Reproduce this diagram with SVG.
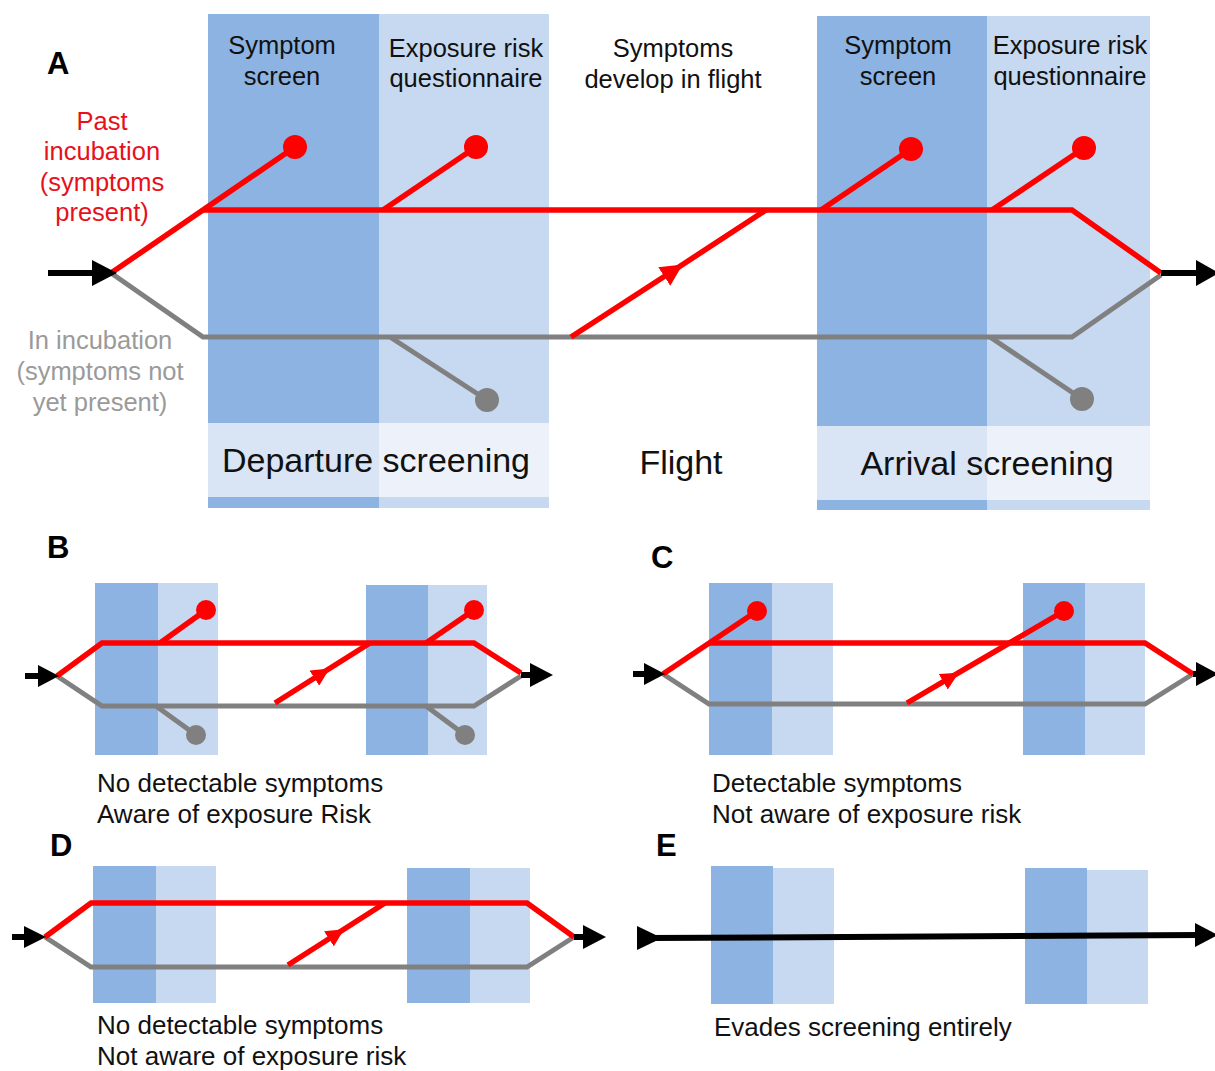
<svg xmlns="http://www.w3.org/2000/svg" width="1215" height="1071" viewBox="0 0 1215 1071">
<defs>
<style>
.dk{fill:#8DB3E2}
.lt{fill:#C6D9F1}
.bd{fill:#D9E4F4}
.bl{fill:#EDF2FA}
.red{fill:none;stroke:#FF0000;stroke-width:5.5;stroke-linejoin:miter}
.gry{fill:none;stroke:#808080;stroke-width:5}
.blk{fill:none;stroke:#000;stroke-width:6}
.rd{fill:#FF0000}
.gd{fill:#808080}
.ah{fill:#000}
text{font-family:"Liberation Sans",Arial,sans-serif;fill:#111}
.lbl{font-size:25.5px}
.cap{font-size:26px}
.big{font-size:34px}
.let{font-size:31px;font-weight:bold;fill:#000}
.tr{fill:#E8101A}
.tg{fill:#9A9A9A}
</style>
<marker id="mid" viewBox="0 0 10 10" refX="5" refY="5" markerUnits="userSpaceOnUse" markerWidth="22" markerHeight="22" orient="auto"><path d="M0,0 L10,5 L0,10 z" fill="#FF0000"/></marker>
<marker id="mids" viewBox="0 0 10 10" refX="5" refY="5" markerUnits="userSpaceOnUse" markerWidth="18" markerHeight="18" orient="auto"><path d="M0,0 L10,5 L0,10 z" fill="#FF0000"/></marker>
</defs>
<rect width="1215" height="1071" fill="#fff"/>

<!-- Panel A -->
<g id="A-departure">
<rect class="dk" x="208" y="14" width="171" height="409"/>
<rect class="lt" x="379" y="14" width="170" height="409"/>
<rect class="bd" x="208" y="423" width="171" height="74"/>
<rect class="bl" x="379" y="423" width="170" height="74"/>
<rect class="dk" x="208" y="497" width="171" height="11"/>
<rect class="lt" x="379" y="497" width="170" height="11"/>
<text class="lbl" x="282" y="54" text-anchor="middle">Symptom</text>
<text class="lbl" x="282" y="85" text-anchor="middle">screen</text>
<text class="lbl" x="466" y="57" text-anchor="middle">Exposure risk</text>
<text class="lbl" x="466" y="87" text-anchor="middle">questionnaire</text>
<text class="big" x="376" y="472" text-anchor="middle">Departure screening</text>
</g>
<g id="A-arrival">
<rect class="dk" x="817" y="16" width="170" height="410"/>
<rect class="lt" x="987" y="16" width="163" height="410"/>
<rect class="bd" x="817" y="426" width="170" height="74"/>
<rect class="bl" x="987" y="426" width="163" height="74"/>
<rect class="dk" x="817" y="500" width="170" height="10"/>
<rect class="lt" x="987" y="500" width="163" height="10"/>
<text class="lbl" x="898" y="54" text-anchor="middle">Symptom</text>
<text class="lbl" x="898" y="85" text-anchor="middle">screen</text>
<text class="lbl" x="1070" y="54" text-anchor="middle">Exposure risk</text>
<text class="lbl" x="1070" y="85" text-anchor="middle">questionnaire</text>
<text class="big" x="987" y="475" text-anchor="middle">Arrival screening</text>
</g>
<g id="A-flight">
<text class="lbl" x="673" y="57" text-anchor="middle">Symptoms</text>
<text class="lbl" x="673" y="88" text-anchor="middle">develop in flight</text>
<text class="big" x="681" y="474" text-anchor="middle">Flight</text>
</g>
<g id="A-labels">
<text class="let" x="47" y="74">A</text>
<text class="lbl tr" x="102" y="130" text-anchor="middle">Past</text>
<text class="lbl tr" x="102" y="160" text-anchor="middle">incubation</text>
<text class="lbl tr" x="102" y="191" text-anchor="middle">(symptoms</text>
<text class="lbl tr" x="102" y="221" text-anchor="middle">present)</text>
<text class="lbl tg" x="100" y="349" text-anchor="middle">In incubation</text>
<text class="lbl tg" x="100" y="380" text-anchor="middle">(symptoms not</text>
<text class="lbl tg" x="100" y="411" text-anchor="middle">yet present)</text>
</g>

<!-- Panel B -->
<g id="B-screens">
<rect class="dk" x="95" y="583" width="63" height="172"/>
<rect class="lt" x="158" y="583" width="60" height="172"/>
<rect class="dk" x="366" y="585" width="62" height="170"/>
<rect class="lt" x="428" y="585" width="59" height="170"/>
</g>
<g id="B-labels">
<text class="let" x="47" y="558">B</text>
<text class="cap" x="97" y="792">No detectable symptoms</text>
<text class="cap" x="97" y="823">Aware of exposure Risk</text>
</g>

<!-- Panel C -->
<g id="C-screens">
<rect class="dk" x="709" y="583" width="63" height="172"/>
<rect class="lt" x="772" y="583" width="61" height="172"/>
<rect class="dk" x="1023" y="583" width="62" height="172"/>
<rect class="lt" x="1085" y="583" width="60" height="172"/>
</g>
<g id="C-labels">
<text class="let" x="651" y="568">C</text>
<text class="cap" x="712" y="792">Detectable symptoms</text>
<text class="cap" x="712" y="823">Not aware of exposure risk</text>
</g>

<!-- Panel D -->
<g id="D-screens">
<rect class="dk" x="93" y="866" width="63" height="137"/>
<rect class="lt" x="156" y="866" width="60" height="137"/>
<rect class="dk" x="407" y="868" width="63" height="135"/>
<rect class="lt" x="470" y="868" width="60" height="135"/>
</g>
<g id="D-labels">
<text class="let" x="50" y="856">D</text>
<text class="cap" x="97" y="1034">No detectable symptoms</text>
<text class="cap" x="97" y="1065">Not aware of exposure risk</text>
</g>

<!-- Panel E -->
<g id="E-screens">
<rect class="dk" x="711" y="866" width="62" height="138"/>
<rect class="lt" x="773" y="868" width="61" height="136"/>
<rect class="dk" x="1025" y="868" width="62" height="136"/>
<rect class="lt" x="1087" y="870" width="61" height="134"/>
</g>
<g id="E-labels">
<text class="let" x="656" y="856">E</text>
<text class="cap" x="714" y="1036">Evades screening entirely</text>
</g>

<g id="connectors">
<!-- A -->
<polyline class="gry" points="111,273 203,337 1072,337 1161,275"/>
<line class="gry" x1="390" y1="337" x2="487" y2="400"/>
<line class="gry" x1="990" y1="337" x2="1082" y2="399"/>
<circle class="gd" cx="487" cy="400" r="12"/>
<circle class="gd" cx="1082" cy="399" r="12"/>
<polyline class="red" points="203,210 1072,210 1161,273"/>
<line class="red" x1="111" y1="273" x2="295" y2="147"/>
<line class="red" x1="383" y1="210" x2="476" y2="147"/>
<line class="red" x1="821" y1="210" x2="911" y2="149"/>
<line class="red" x1="992" y1="210" x2="1084" y2="148"/>
<circle class="rd" cx="295" cy="147" r="12"/>
<circle class="rd" cx="476" cy="147" r="12"/>
<circle class="rd" cx="911" cy="149" r="12"/>
<circle class="rd" cx="1084" cy="148" r="12"/>
<polyline class="red" points="571,337 673.5,270.5 766,210" marker-mid="url(#mid)"/>
<line class="blk" x1="48" y1="273" x2="100" y2="273"/>
<polygon class="ah" points="92,260 117,273 92,286"/>
<line class="blk" x1="1161" y1="273" x2="1205" y2="273"/>
<polygon class="ah" points="1196,260 1219,273 1196,286"/>

<!-- B -->
<polyline class="gry" points="57,676 102,706 474,706 521,676"/>
<line class="gry" x1="156" y1="706" x2="196" y2="735"/>
<line class="gry" x1="426" y1="706" x2="465" y2="735"/>
<circle class="gd" cx="196" cy="735" r="10"/>
<circle class="gd" cx="465" cy="735" r="10"/>
<polyline class="red" points="57,676 102,643 474,643 521,673"/>
<line class="red" x1="160" y1="643" x2="206" y2="610"/>
<line class="red" x1="426" y1="643" x2="474" y2="610"/>
<circle class="rd" cx="206" cy="610" r="10"/>
<circle class="rd" cx="474" cy="610" r="10"/>
<polyline class="red" points="275,703 322,673.3 370,643" marker-mid="url(#mids)"/>
<line class="blk" x1="25" y1="676" x2="45" y2="676"/>
<polygon class="ah" points="38,665 59,676 38,687"/>
<line class="blk" x1="521" y1="675" x2="540" y2="675"/>
<polygon class="ah" points="530,663 553,675 530,687"/>

<!-- C -->
<polyline class="gry" points="663,674 709,704 1145,704 1193,674"/>
<polyline class="red" points="709,643 1145,643 1193,674"/>
<line class="red" x1="663" y1="674" x2="757" y2="611"/>
<circle class="rd" cx="757" cy="611" r="10"/>
<polyline class="red" points="907,703 951,677.2 1064,611" marker-mid="url(#mids)"/>
<circle class="rd" cx="1064" cy="611" r="10"/>
<line class="blk" x1="633" y1="674" x2="650" y2="674"/>
<polygon class="ah" points="644,663 665,674 644,685"/>
<line class="blk" x1="1193" y1="674" x2="1205" y2="674"/>
<polygon class="ah" points="1196,662 1218,674 1196,686"/>

<!-- D -->
<polyline class="gry" points="45,937 91,967 527,967 574,937"/>
<polyline class="red" points="45,937 91,903 527,903 574,937"/>
<polyline class="red" points="288,965 336.5,934 385,903" marker-mid="url(#mids)"/>
<line class="blk" x1="12" y1="937" x2="30" y2="937"/>
<polygon class="ah" points="24,926 46,937 24,948"/>
<line class="blk" x1="574" y1="937" x2="590" y2="937"/>
<polygon class="ah" points="583,925 606,937 583,949"/>

<!-- E -->
<line class="blk" x1="650" y1="938" x2="1200" y2="935"/>
<polygon class="ah" points="637,926 662,938 637,950"/>
<polygon class="ah" points="1195,923 1218,935 1195,947"/>
</g>
</svg>
